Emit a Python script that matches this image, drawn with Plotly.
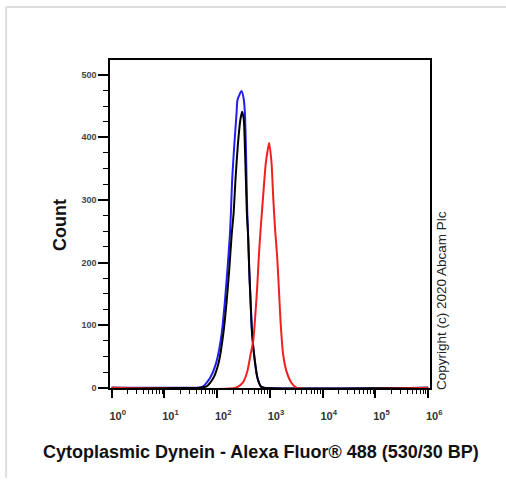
import plotly.graph_objects as go

# ---- data (intensity, count) ----
blue_x = [1, 37.8, 47, 54.3, 72.7, 97.4, 121, 140, 157, 174, 182, 192, 210, 233, 243, 290,
          320, 335, 350, 360, 372, 386, 404, 429, 460, 518, 582, 673, 766, 1e6]
blue_y = [0, 0, 0.5, 2, 15, 42, 85, 138, 191, 244, 279, 332, 385, 439, 460, 474,
          460, 439, 385, 332, 279, 242, 191, 138, 85, 42, 15, 2, 0, 0]

black_x = [1, 47, 63, 84, 108, 130, 151, 170, 188, 205, 222, 245, 275, 297,
           320, 335, 350, 365, 386, 404, 429, 460, 518, 582, 673, 766, 1e6]
black_y = [0, 0, 2, 15, 42, 85, 138, 191, 244, 279, 332, 385, 428, 441,
           428, 385, 332, 279, 242, 191, 138, 85, 42, 15, 2, 0, 0]

red_x = [1, 226, 303, 372, 429, 481, 518, 572, 616, 664, 743, 836, 966,
         1072, 1150, 1254, 1368, 1475, 1588, 1778, 2061, 2566, 3190, 1e6]
red_y = [0, 0, 7.5, 26, 53, 74, 106, 159, 210, 252, 306, 359, 391,
         359, 306, 252, 210, 159, 106, 53, 26, 7.5, 0, 0]

x_tick_exps = [0, 1, 2, 3, 4, 5, 6]
y_ticks = [0, 100, 200, 300, 400, 500]

x_title = "Cytoplasmic Dynein - Alexa Fluor® 488 (530/30 BP)"
y_title = "Count"
copyright_text = "Copyright (c) 2020 Abcam Plc"

fig = go.Figure()
for xs, ys, col in [(blue_x, blue_y, "#2020ee"), (black_x, black_y, "#000000"),
                    (red_x, red_y, "#f02020")]:
    fig.add_trace(go.Scatter(x=xs, y=ys, mode="lines",
                             line=dict(color=col, width=2, shape="spline", smoothing=0.6),
                             showlegend=False, hoverinfo="skip"))

minor_vals = [m * 10 ** e for e in range(0, 6) for m in range(2, 10)]

fig.update_xaxes(type="log", range=[-0.032, 6.034],
                 tickmode="array",
                 tickvals=[10 ** e for e in x_tick_exps],
                 ticktext=[f"10<sup>{e}</sup>" for e in x_tick_exps],
                 ticks="outside", ticklen=8, tickwidth=1.5, tickcolor="#000",
                 ticklabelshift=6, ticklabelstandoff=9,
                 minor=dict(tickmode="array", tickvals=minor_vals, ticks="outside",
                            ticklen=4, tickwidth=1, tickcolor="#000", showgrid=False),
                 tickfont=dict(family="Liberation Sans, Arial", size=11, color="#333", weight="bold"),
                 showline=True, linecolor="#000", linewidth=1.5, mirror=True,
                 showgrid=False, zeroline=False)

fig.update_yaxes(range=[-0.5, 523.5],
                 tickmode="array", tickvals=y_ticks,
                 ticks="outside", ticklen=10, tickwidth=1.5, tickcolor="#000",
                 minor=dict(dtick=25, ticks="outside", ticklen=5, tickwidth=1,
                            tickcolor="#000", showgrid=False),
                 tickfont=dict(family="Liberation Sans, Arial", size=9, color="#444", weight="bold"),
                 showline=True, linecolor="#000", linewidth=1.5, mirror=True,
                 showgrid=False, zeroline=False)

fig.update_layout(
    width=506, height=482,
    margin=dict(l=110, r=76, t=60, b=94),
    paper_bgcolor="white", plot_bgcolor="white",
    annotations=[
        dict(text=f"<b>{x_title}</b>", xref="paper", yref="paper", x=0.472, y=-0.195,
             xanchor="center", yanchor="middle", showarrow=False,
             font=dict(family="Liberation Sans, Arial", size=18, color="#111")),
        dict(text=f"<b>{y_title}</b>", xref="paper", yref="paper", x=-0.156, y=0.497,
             xanchor="center", yanchor="middle", showarrow=False, textangle=-90,
             font=dict(family="Liberation Sans, Arial", size=18, color="#111")),
        dict(text=copyright_text, xref="paper", yref="paper", x=1.034, y=0.268,
             xanchor="center", yanchor="middle", showarrow=False, textangle=-90,
             font=dict(family="Liberation Sans, Arial", size=13.5, color="#222")),
    ],
    shapes=[
        dict(type="line", xref="paper", yref="paper", x0=-0.3247, x1=1.24, y0=1.1616, y1=1.1616,
             line=dict(color="#dddddd", width=2)),
        dict(type="line", xref="paper", yref="paper", x0=-0.3247, x1=-0.3247, y0=1.1616, y1=-0.274,
             line=dict(color="#dddddd", width=2)),
    ],
)

fig.write_html("out.html", config={"displayModeBar": False},
               post_script="document.body.style.margin='0';document.body.style.overflow='hidden';")
